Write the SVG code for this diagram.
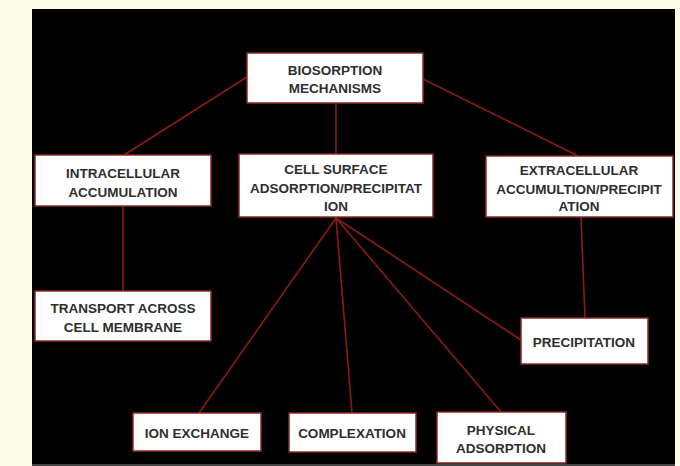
<svg xmlns="http://www.w3.org/2000/svg" width="680" height="466" viewBox="0 0 680 466">
<style>
.box{fill:#ffffff;stroke:#8a2a22;stroke-width:1.5}
.t{font-family:"Liberation Sans",Arial,sans-serif;font-weight:bold;font-size:13.5px;fill:#2e2e2e;text-anchor:middle}
.c{stroke:#8a1c14;stroke-width:1.6;fill:none}
</style>
<rect x="0" y="0" width="680" height="466" fill="#fbfde9"/>
<rect x="32" y="9" width="643" height="455" fill="#000000"/>
<rect x="32" y="464" width="643" height="2" fill="#444444"/>
<g id="connectors">
<line class="c" x1="247" y1="77" x2="124" y2="155"/>
<line class="c" x1="336" y1="103" x2="336" y2="154"/>
<line class="c" x1="423" y1="79" x2="578" y2="156"/>
<line class="c" x1="123" y1="206" x2="123" y2="291"/>
<line class="c" x1="581" y1="217" x2="585" y2="318"/>
<line class="c" x1="336" y1="218" x2="199" y2="413"/>
<line class="c" x1="336" y1="218" x2="352" y2="413"/>
<line class="c" x1="336" y1="218" x2="501" y2="412"/>
<line class="c" x1="336" y1="218" x2="521" y2="340"/>
</g>
<g id="biosorption">
<rect class="box" x="247" y="53" width="176" height="50"/>
<text class="t" x="335" y="75">BIOSORPTION</text>
<text class="t" x="335" y="93">MECHANISMS</text>
</g>
<g id="intracellular">
<rect class="box" x="35" y="155" width="176" height="51"/>
<text class="t" x="123" y="178">INTRACELLULAR</text>
<text class="t" x="123" y="197">ACCUMULATION</text>
</g>
<g id="cellsurface">
<rect class="box" x="239" y="154" width="194" height="63"/>
<text class="t" x="336" y="174">CELL SURFACE</text>
<text class="t" x="336" y="193">ADSORPTION/PRECIPITAT</text>
<text class="t" x="336" y="211">ION</text>
</g>
<g id="extracellular">
<rect class="box" x="486" y="156" width="187" height="61"/>
<text class="t" x="579" y="175">EXTRACELLULAR</text>
<text class="t" x="579" y="194">ACCUMULTION/PRECIPIT</text>
<text class="t" x="579" y="211">ATION</text>
</g>
<g id="transport">
<rect class="box" x="35" y="291" width="176" height="50"/>
<text class="t" x="123" y="313">TRANSPORT ACROSS</text>
<text class="t" x="123" y="332">CELL MEMBRANE</text>
</g>
<g id="precipitation">
<rect class="box" x="521" y="318" width="127" height="46"/>
<text class="t" x="584" y="347">PRECIPITATION</text>
</g>
<g id="ionexchange">
<rect class="box" x="133" y="413" width="128" height="38"/>
<text class="t" x="197" y="438">ION EXCHANGE</text>
</g>
<g id="complexation">
<rect class="box" x="289" y="413" width="127" height="39"/>
<text class="t" x="352" y="438">COMPLEXATION</text>
</g>
<g id="physical">
<rect class="box" x="437" y="412" width="129" height="51"/>
<text class="t" x="501" y="435">PHYSICAL</text>
<text class="t" x="501" y="453">ADSORPTION</text>
</g>
</svg>
